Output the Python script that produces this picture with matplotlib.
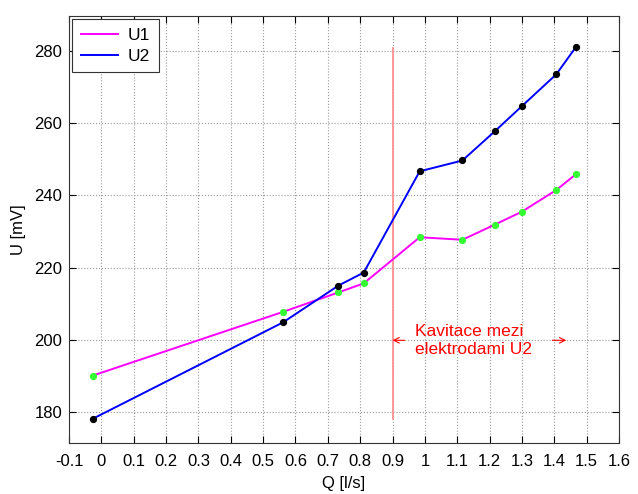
import matplotlib
matplotlib.use("Agg")
import matplotlib.pyplot as plt

# Data
Q = [-0.027, 0.562, 0.733, 0.811, 0.984, 1.116, 1.216, 1.300, 1.406, 1.467]
U1 = [190.0, 207.7, 213.1, 215.6, 228.4, 227.7, 231.9, 235.5, 241.5, 245.9]
U2 = [178.0, 204.8, 215.0, 218.6, 246.7, 249.7, 257.8, 264.8, 273.6, 281.2]
xticks = [-0.1, 0, 0.1, 0.2, 0.3, 0.4, 0.5, 0.6, 0.7, 0.8, 0.9, 1, 1.1, 1.2, 1.3, 1.4, 1.5, 1.6]
xticklabels = ["-0.1", "0", "0.1", "0.2", "0.3", "0.4", "0.5", "0.6", "0.7", "0.8", "0.9",
               "1", "1.1", "1.2", "1.3", "1.4", "1.5", "1.6"]
yticks = [180, 200, 220, 240, 260, 280]
cav_Q = 0.9
cav_U = (178, 281)
note_text = "Kavitace mezi\nelektrodami U2"

plt.rcParams['font.family'] = ['Liberation Sans', 'DejaVu Sans']
plt.rcParams['font.size'] = 10

fig = plt.figure(figsize=(6.38, 4.94), dpi=100)
ax = fig.add_axes([69/638, 51/494, 550/638, 427/494])

l1, = ax.plot(Q, U1, color='#ff00ff', lw=1.4, label='U1', zorder=3)
l2, = ax.plot(Q, U2, color='#0000ff', lw=1.4, label='U2', zorder=3)
ax.plot(Q, U1, ls='none', marker='o', ms=4.2, mfc='#33ff33', mec='#33ff33', zorder=4)
ax.plot(Q, U2, ls='none', marker='o', ms=4.2, mfc='black', mec='black', zorder=4)

ax.plot([cav_Q, cav_Q], list(cav_U), color='#ff9090', lw=1.3, zorder=2)

ax.annotate('', xy=(0.900, 199.8), xytext=(0.937, 199.8),
            arrowprops=dict(arrowstyle='->', color='red', lw=0.8, shrinkA=0, shrinkB=0))
ax.annotate('', xy=(1.437, 199.8), xytext=(1.394, 199.8),
            arrowprops=dict(arrowstyle='->', color='red', lw=0.8, shrinkA=0, shrinkB=0))
ax.text(0.968, 199.8, note_text, color='red', fontsize=12.5, ha='left', va='center',
        linespacing=1.25)

ax.set_xlim(-0.1, 1.6)
ax.set_ylim(171.3, 289.8)
ax.set_xticks(xticks)
ax.set_xticklabels(xticklabels)
ax.set_yticks(yticks)
ax.tick_params(direction='in', top=True, right=True, length=5, width=0.8, labelsize=12)
ax.tick_params(axis='x', pad=8)
ax.tick_params(axis='y', pad=5)
ax.grid(True, ls=':', color='#999999', lw=0.8)
for s in ax.spines.values():
    s.set_linewidth(0.8)
    s.set_color('#333333')

ax.set_xlabel('Q [l/s]', fontsize=12, labelpad=5)
ax.set_ylabel('U [mV]', fontsize=12, labelpad=6)

leg = ax.legend(handles=[l1, l2], loc='upper left', fontsize=12.5, fancybox=False,
                framealpha=1, edgecolor='#333333', borderaxespad=0.2,
                handlelength=2.1, handletextpad=0.6, borderpad=0.5, labelspacing=0.3)
leg.get_frame().set_linewidth(0.8)

fig.savefig('out.png', dpi=100)
